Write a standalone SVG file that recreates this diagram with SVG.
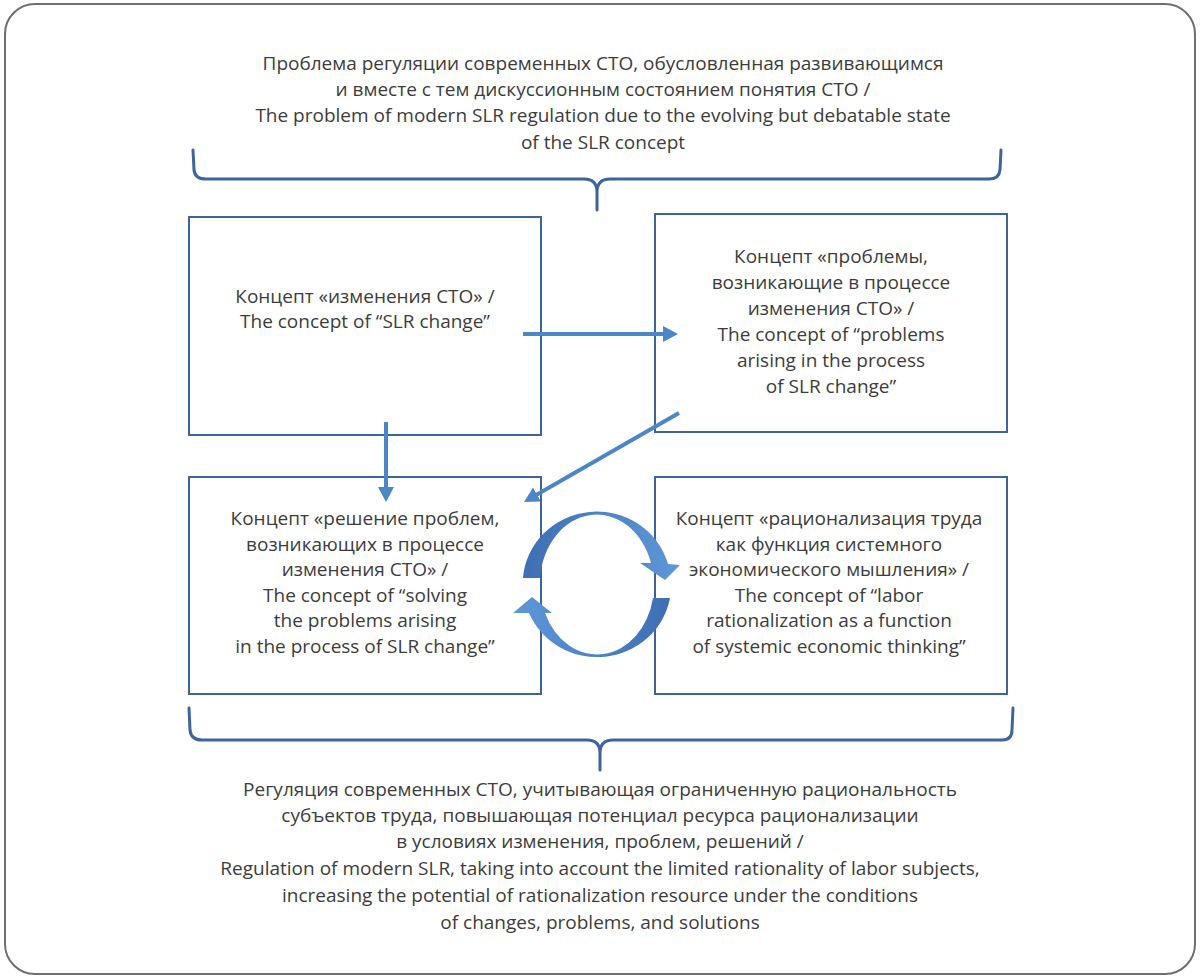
<svg xmlns="http://www.w3.org/2000/svg" width="1200" height="980" viewBox="0 0 1200 980">
<style>
.frame{fill:#fff;stroke:#6e6e6e;stroke-width:2}
.box{fill:#fff;stroke:#3d649c;stroke-width:2}
.brace{fill:none;stroke:#3d649c;stroke-width:3;stroke-linecap:round;stroke-linejoin:round}
.conn{fill:none;stroke:#4a86c8;stroke-width:4}
text{font-family:"Open Sans","Noto Sans","DejaVu Sans",sans-serif;font-size:19px;fill:#3c3c3c;text-anchor:middle}
</style>
<defs>
<marker id="ah" markerUnits="userSpaceOnUse" markerWidth="16" markerHeight="16" refX="3" refY="8" orient="auto">
<path d="M0,0 L15,8 L0,16 z" fill="#4a86c8"/>
</marker>
<linearGradient id="gTop" x1="0" y1="0" x2="1" y2="0">
<stop offset="0" stop-color="#3e6eb4"/>
<stop offset="1" stop-color="#5e98d8"/>
</linearGradient>
<linearGradient id="gBot" x1="0" y1="0" x2="1" y2="0">
<stop offset="0" stop-color="#5e98d8"/>
<stop offset="1" stop-color="#3e6eb4"/>
</linearGradient>
</defs>
<rect class="frame" x="5" y="4" width="1190" height="970" rx="30"/>

<g id="top-label">
<text x="603" y="70">Проблема регуляции современных СТО, обусловленная развивающимся</text>
<text x="603" y="96">и вместе с тем дискуссионным состоянием понятия СТО /</text>
<text x="603" y="122">The problem of modern SLR regulation due to the evolving but debatable state</text>
<text x="603" y="149">of the SLR concept</text>
</g>
<g id="top-brace">
<path class="brace" d="M193 150 L194 170 Q195 179 206 179 L584 179 Q597 179 597 192 L597 210 M597 192 Q597 179 610 179 L989 179 Q999 179 1000 170 L1001 150"/>
</g>

<g id="box1">
<rect class="box" x="189" y="217" width="352" height="218"/>
<text x="365" y="303">Концепт «изменения СТО» /</text>
<text x="365" y="328">The concept of “SLR change”</text>
</g>
<g id="box2">
<rect class="box" x="655" y="214" width="352" height="218"/>
<text x="831" y="263">Концепт «проблемы,</text>
<text x="831" y="289">возникающие в процессе</text>
<text x="831" y="315">изменения СТО» /</text>
<text x="831" y="341">The concept of “problems</text>
<text x="831" y="367">arising in the process</text>
<text x="831" y="393">of SLR change”</text>
</g>
<g id="box3">
<rect class="box" x="189" y="477" width="352" height="217"/>
<text x="365" y="525">Концепт «решение проблем,</text>
<text x="365" y="551">возникающих в процессе</text>
<text x="365" y="576">изменения СТО» /</text>
<text x="365" y="602">The concept of “solving</text>
<text x="365" y="627">the problems arising</text>
<text x="365" y="653">in the process of SLR change”</text>
</g>
<g id="box4">
<rect class="box" x="655" y="477" width="352" height="217"/>
<text x="829" y="525">Концепт «рационализация труда</text>
<text x="829" y="551">как функция системного</text>
<text x="829" y="576">экономического мышления» /</text>
<text x="829" y="602">The concept of “labor</text>
<text x="829" y="627">rationalization as a function</text>
<text x="829" y="653">of systemic economic thinking”</text>
</g>

<g id="connectors">
<line class="conn" x1="523" y1="334" x2="666" y2="334" marker-end="url(#ah)"/>
<line class="conn" x1="386" y1="422" x2="386" y2="490" marker-end="url(#ah)"/>
<line class="conn" x1="679" y1="413" x2="534.4" y2="496" marker-end="url(#ah)"/>
</g>

<g id="cycle">
<path fill="url(#gTop)" d="M523 578 A74 72 0 0 1 668 564 L680 565 L665 580 L640 563 L651 563 A57 70 0 0 0 540 578 Z"/>
<path fill="url(#gBot)" d="M670 598 A74 72 0 0 1 529 613 L513 613 L532 597 L552 613 L545 613 A57 70 0 0 0 653 598 Z"/>
</g>

<g id="bottom-brace">
<path class="brace" d="M189 708 L190 730 Q191 740 202 740 L587 740 Q600 740 600 753 L600 770 M600 753 Q600 740 613 740 L1002 740 Q1012 740 1012 730 L1013 708"/>
</g>
<g id="bottom-label">
<text x="600" y="796">Регуляция современных СТО, учитывающая ограниченную рациональность</text>
<text x="600" y="822">субъектов труда, повышающая потенциал ресурса рационализации</text>
<text x="600" y="848">в условиях изменения, проблем, решений /</text>
<text x="600" y="875">Regulation of modern SLR, taking into account the limited rationality of labor subjects,</text>
<text x="600" y="902">increasing the potential of rationalization resource under the conditions</text>
<text x="600" y="929">of changes, problems, and solutions</text>
</g>
</svg>
